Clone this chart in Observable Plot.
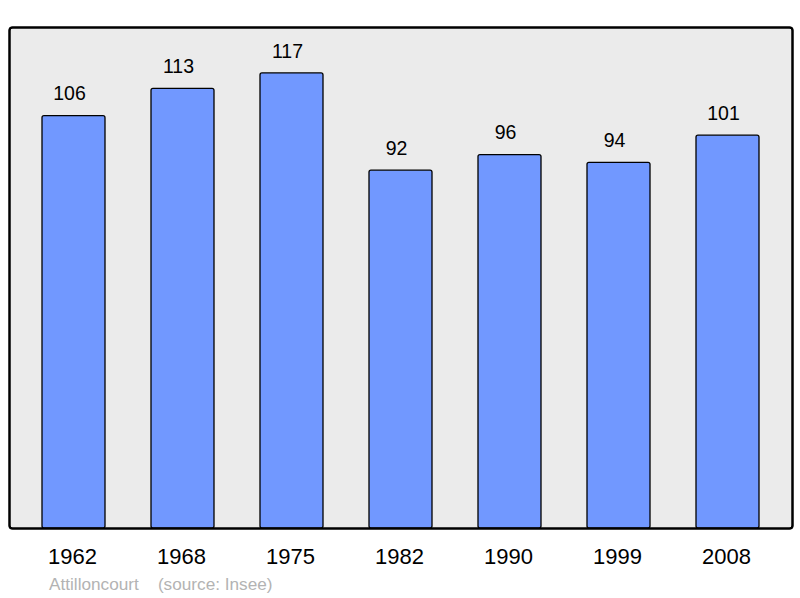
<!DOCTYPE html>
<html>
<head>
<meta charset="utf-8">
<script src="https://cdn.jsdelivr.net/npm/d3@7"></script>
<script src="https://cdn.jsdelivr.net/npm/@observablehq/plot@0.6"></script>
<style>
  body { margin: 0; background: #fff; font-family: "Liberation Sans", Arial, sans-serif; }
  #chart svg { display: block; }
  #caption { position: absolute; left: 49px; top: 574px; font-size: 17.2px; color: #b3b3b3; white-space: pre; font-family: "Liberation Sans", Arial, sans-serif; }
</style>
</head>
<body>
<div id="chart"></div>
<div id="caption">Attilloncourt    (source: Insee)</div>
<script>
const years = ["1962", "1968", "1975", "1982", "1990", "1999", "2008"];
const population = [106, 113, 117, 92, 96, 94, 101];

const data = years.map((y, i) => ({year: y, value: population[i]}));

const chart = Plot.plot({
  width: 800,
  height: 572,
  marginLeft: 9,
  marginRight: 8,
  marginTop: 27,
  marginBottom: 44,
  style: {fontFamily: "'Liberation Sans', Arial, sans-serif", background: "#fff"},
  x: {domain: years, paddingInner: 0.424, paddingOuter: 0.3, label: null},
  y: {domain: [0, 128.8], axis: null},
  marks: [
    Plot.frame({fill: "#ebebeb", stroke: "#000", strokeWidth: 2, rx: 3}),
    Plot.barY(data, {x: "year", y: "value", fill: "#7198ff", stroke: "#000", strokeWidth: 1.3, rx: 2}),
    Plot.text(data, {x: "year", y: "value", text: d => String(d.value), dy: -22, dx: -4.5, fontSize: 19.5, fill: "#000"}),
    Plot.axisX({tickSize: 0, tickPadding: 19.5, fontSize: 22, dx: -1.5, fill: "#000"}),
    Plot.frame({stroke: "#000", strokeWidth: 2, rx: 3})
  ]
});
document.getElementById("chart").appendChild(chart);
</script>
</body>
</html>
